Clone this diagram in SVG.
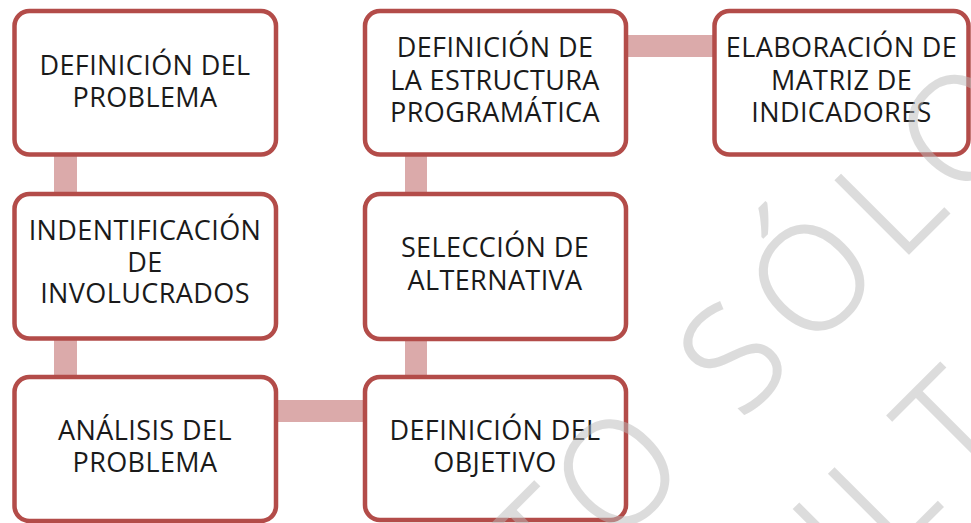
<svg xmlns="http://www.w3.org/2000/svg" width="971" height="523" viewBox="0 0 971 523">
  <style>
    .box { fill: #FFFFFF; stroke: #B34C49; stroke-width: 4.5; }
    .conn { fill: #DBAAAA; }
    .lbl { font-family: "Open Sans", "Liberation Sans", sans-serif; font-size: 27px; letter-spacing: 0.4px; fill: #1A1A1A; text-anchor: middle; }
    .wm { font-family: "Open Sans", "Liberation Sans", sans-serif; font-size: 145px; font-weight: 300; fill: #BBBBBB; stroke: #BBBBBB; stroke-width: 2; }
  </style>
  <rect width="971" height="523" fill="#FFFFFF"/>
  <g id="connectors">
    <rect class="conn" x="54" y="150" width="23" height="48"/>
    <rect class="conn" x="54" y="334" width="23" height="48"/>
    <rect class="conn" x="272" y="400" width="96" height="22"/>
    <rect class="conn" x="405" y="150" width="22" height="48"/>
    <rect class="conn" x="405" y="334" width="22" height="48"/>
    <rect class="conn" x="622" y="35" width="96" height="22"/>
  </g>
  <g id="n1">
    <rect class="box" x="14.5" y="11" width="261.5" height="143.5" rx="15"/>
    <text class="lbl" x="145" y="75">DEFINICIÓN DEL</text>
    <text class="lbl" x="145" y="107">PROBLEMA</text>
  </g>
  <g id="n2">
    <rect class="box" x="14.5" y="194" width="261.5" height="144.5" rx="15"/>
    <text class="lbl" x="145" y="240">INDENTIFICACIÓN</text>
    <text class="lbl" x="145" y="272">DE</text>
    <text class="lbl" x="145" y="303">INVOLUCRADOS</text>
  </g>
  <g id="n3">
    <rect class="box" x="14.5" y="377" width="261.5" height="144" rx="15"/>
    <text class="lbl" x="145" y="440">ANÁLISIS DEL</text>
    <text class="lbl" x="145" y="472">PROBLEMA</text>
  </g>
  <g id="n4">
    <rect class="box" x="365" y="11" width="261" height="143.5" rx="15"/>
    <text class="lbl" x="495" y="57">DEFINICIÓN DE</text>
    <text class="lbl" x="495" y="90">LA ESTRUCTURA</text>
    <text class="lbl" x="495" y="122">PROGRAMÁTICA</text>
  </g>
  <g id="n5">
    <rect class="box" x="365" y="194" width="261" height="145" rx="15"/>
    <text class="lbl" x="495" y="257">SELECCIÓN DE</text>
    <text class="lbl" x="495" y="290">ALTERNATIVA</text>
  </g>
  <g id="n6">
    <rect class="box" x="365" y="377" width="261" height="143" rx="15"/>
    <text class="lbl" x="495" y="440">DEFINICIÓN DEL</text>
    <text class="lbl" x="495" y="472">OBJETIVO</text>
  </g>
  <g id="n7">
    <rect class="box" x="714.5" y="11" width="254" height="143.5" rx="15"/>
    <text class="lbl" x="841.5" y="57">ELABORACIÓN DE</text>
    <text class="lbl" x="841.5" y="90">MATRIZ DE</text>
    <text class="lbl" x="841.5" y="122">INDICADORES</text>
  </g>
  <g id="watermark" transform="rotate(-45)" opacity="0.5">
    <text class="wm" x="-38 46.5 170 226 322 449 534" y="822">TO SÓLO</text>
    <text class="wm" x="118 237 333" y="1025">ULT</text>
  </g>
</svg>
